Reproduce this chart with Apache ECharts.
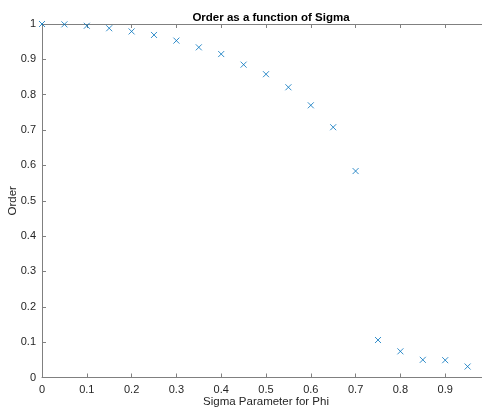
<!DOCTYPE html>
<html>
<head>
<meta charset="utf-8">
<script src="https://cdn.jsdelivr.net/npm/echarts@6/dist/echarts.min.js"></script>
<style>
  html, body { margin: 0; padding: 0; background: #fff; }
  #main { width: 482px; height: 408px; }
</style>
</head>
<body>
<div id="main"></div>
<script>
  // sigma values and measured order
  const sigma = [0, 0.05, 0.1, 0.15, 0.2, 0.25, 0.3, 0.35, 0.4, 0.45,
    0.5, 0.55, 0.6, 0.65, 0.7, 0.75, 0.8, 0.85, 0.9, 0.95]
  const order = [1.0, 0.999, 0.995, 0.988, 0.979, 0.969, 0.953, 0.934, 0.915, 0.885,
    0.858, 0.821, 0.770, 0.708, 0.584, 0.106, 0.074, 0.050, 0.049, 0.031]

  const axisGray = '#808080'
  const textColor = '#262626'
  const font = 'Helvetica, "Liberation Sans", Arial, sans-serif'

  const chart = echarts.init(document.getElementById('main'))
  const option = {
    animation: false,
    title: {
      text: 'Order as a function of Sigma',
      left: 266,
      top: 7,
      textAlign: 'center',
      textStyle: { fontSize: 11.5, fontWeight: 'bold', color: '#000', fontFamily: font },
    },
    grid: { left: 42, top: 24, right: -8, bottom: 30.5, outerBoundsMode: 'none', containLabel: false },
    xAxis: [
      {
        type: 'value',
        min: 0,
        max: 1,
        interval: 0.1,
        position: 'bottom',
        name: 'Sigma Parameter for Phi',
        nameLocation: 'middle',
        nameGap: 18,
        nameMoveOverlap: false,
        nameTextStyle: { fontSize: 11.5, color: textColor, fontFamily: font },
        axisLine: { show: true, lineStyle: { color: axisGray, width: 1 } },
        axisTick: { show: true, inside: true, length: 4, lineStyle: { color: axisGray } },
        axisLabel: { fontSize: 11, color: textColor, fontFamily: font, margin: 7 },
        splitLine: { show: false },
      },
      {
        type: 'value',
        min: 0,
        max: 1,
        interval: 0.1,
        position: 'top',
        axisLine: { show: true, lineStyle: { color: axisGray, width: 1 } },
        axisTick: { show: true, inside: true, length: 4, lineStyle: { color: axisGray } },
        axisLabel: { show: false },
        splitLine: { show: false },
      },
    ],
    yAxis: {
      type: 'value',
      min: 0,
      max: 1,
      interval: 0.1,
      name: 'Order',
      nameLocation: 'middle',
      nameGap: 23,
      nameMoveOverlap: false,
      nameTextStyle: { fontSize: 11.5, color: textColor, fontFamily: font },
      axisLine: { show: true, lineStyle: { color: axisGray, width: 1 } },
      axisTick: { show: true, inside: true, length: 4, lineStyle: { color: axisGray } },
      axisLabel: { fontSize: 11, color: textColor, fontFamily: font, margin: 6 },
      splitLine: { show: false },
    },
    series: [
      {
        type: 'scatter',
        xAxisIndex: 0,
        data: sigma.map((s, i) => [s, order[i]]),
        symbol: 'path://M0,0L10,10M10,0L0,10',
        symbolSize: 6,
        itemStyle: { color: 'rgba(0,0,0,0)', borderColor: '#0072BD', borderWidth: 1 },
        clip: false,
      },
    ],
  }
  chart.setOption(option)
</script>
</body>
</html>
